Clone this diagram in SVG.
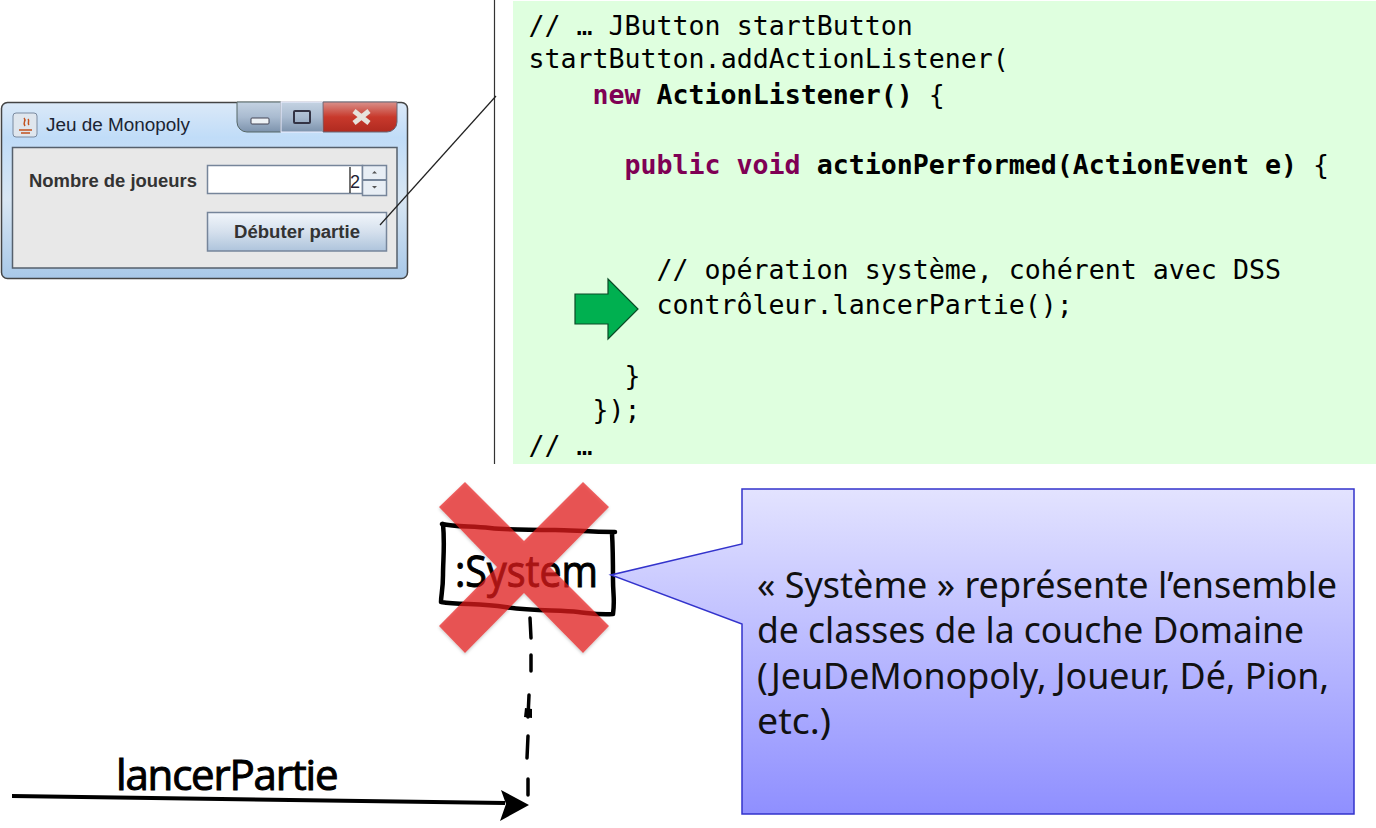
<svg xmlns="http://www.w3.org/2000/svg" width="1376" height="828" viewBox="0 0 1376 828">
<style>
.code{font-family:"DejaVu Sans Mono","Liberation Mono",monospace;font-size:26.6px;fill:#000}
.b{font-weight:700}
.k{font-weight:700;fill:#7f0055}
.ui{font-family:"Liberation Sans",Arial,sans-serif;font-size:18px}
.note{font-family:"Noto Sans","Open Sans",sans-serif;font-size:36px;fill:#111}
.hand{font-family:"Open Sans","Noto Sans",sans-serif;fill:#000;stroke:#000;stroke-width:1}
.sk{fill:none;stroke:#000;stroke-linecap:round;stroke-linejoin:round}
</style>
<defs>
<linearGradient id="win" x1="0" y1="0" x2="0" y2="1"><stop offset="0" stop-color="#dbe9f8"/><stop offset=".2" stop-color="#c0dcf8"/><stop offset=".55" stop-color="#d8e6f3"/><stop offset="1" stop-color="#a8c8e8"/></linearGradient>
<linearGradient id="btn" x1="0" y1="0" x2="0" y2="1"><stop offset="0" stop-color="#f2f6fb"/><stop offset=".5" stop-color="#d5e0ed"/><stop offset="1" stop-color="#aec4dc"/></linearGradient>
<linearGradient id="tb" x1="0" y1="0" x2="0" y2="1"><stop offset="0" stop-color="#c4d2e2"/><stop offset=".5" stop-color="#a9bbd0"/><stop offset="1" stop-color="#7d93ad"/></linearGradient>
<linearGradient id="cl" x1="0" y1="0" x2="0" y2="1"><stop offset="0" stop-color="#d9908a"/><stop offset=".5" stop-color="#c8392c"/><stop offset="1" stop-color="#b02a20"/></linearGradient>
<linearGradient id="call" x1="0" y1="0" x2="0" y2="1"><stop offset="0" stop-color="#e3e3ff"/><stop offset="1" stop-color="#8f8fff"/></linearGradient>
<filter id="sh" x="-10%" y="-10%" width="120%" height="120%"><feDropShadow dx="0" dy="1.5" stdDeviation="1.5" flood-color="#000" flood-opacity=".3"/></filter>
</defs>
<rect width="1376" height="828" fill="#fff"/>

<g id="code-panel">
<rect x="513" y="1" width="863" height="463" fill="#dfffdf"/>
<text class="code" x="528.500" y="35">// … JButton startButton</text>
<text class="code" x="528.500" y="68">startButton.addActionListener(</text>
<text class="code" x="592.500" y="104"><tspan class="k">new</tspan> <tspan class="b">ActionListener()</tspan> {</text>
<text class="code" x="624.500" y="174"><tspan class="k">public void</tspan> <tspan class="b">actionPerformed(ActionEvent e)</tspan> {</text>
<text class="code" x="656.500" y="279">// opération système, cohérent avec DSS</text>
<text class="code" x="656.500" y="314">contrôleur.lancerPartie();</text>
<text class="code" x="624.500" y="385">}</text>
<text class="code" x="592.500" y="419">});</text>
<text class="code" x="528.500" y="455">// …</text>
</g>

<g id="green-arrow">
<polygon points="575,294 608,294 608,279 638,309 608,339 608,324 575,324" fill="#00b050" stroke="#0b4a26" stroke-width="1.200"/>
</g>

<g id="window">
<rect x="1.500" y="102.500" width="406" height="176" rx="6" fill="url(#win)" stroke="#444" stroke-width="1.500"/>
<rect x="13" y="113" width="24" height="24" rx="3" fill="#dfe6ee" stroke="#7a8aa0"/>
<path d="M19 130h13M21 133h9M24 118c3 3-2 4 1 8M28 119c2 2-1 4 1 6" fill="none" stroke="#c2521f" stroke-width="1.500"/>
<text class="ui" x="46" y="131" fill="#1b2433" textLength="144" lengthAdjust="spacingAndGlyphs">Jeu de Monopoly</text>
<path d="M237 102h44v30h-34a10 10 0 0 1-10-10z" fill="url(#tb)" stroke="#566"/>
<rect x="281" y="102" width="42" height="30" fill="url(#tb)" stroke="#eef"/>
<path d="M323 102h74v20a10 10 0 0 1-10 10h-64z" fill="url(#cl)" stroke="#667"/>
<rect x="251" y="118" width="18" height="6" rx="1" fill="#eef2f6" stroke="#445"/>
<rect x="294" y="111" width="16" height="12" rx="1" fill="none" stroke="#334" stroke-width="2"/>
<path d="M354 111l15 12M369 111l-15 12" stroke="#e6e2dc" stroke-width="5"/>
<rect x="12.500" y="147.500" width="384.500" height="120.500" fill="#e8e8e8" stroke="#56606c" stroke-width="1.500"/>
<text class="ui" x="29" y="187" font-weight="700" fill="#333" textLength="168" lengthAdjust="spacingAndGlyphs">Nombre de joueurs</text>
<rect x="207.500" y="165.500" width="155" height="28" fill="#fff" stroke="#76859a" stroke-width="1.500"/>
<path d="M350 167v26" stroke="#111" stroke-width="1.200"/>
<text class="ui" x="350" y="188" fill="#223">2</text>
<rect x="362.500" y="165.500" width="24" height="30" fill="#e8eef5" stroke="#76859a" stroke-width="1.500"/>
<path d="M362 180h24" stroke="#76859a" stroke-width="2"/>
<path d="M372 173.500h5l-2.500-2.500zM372 186h5l-2.500 2.500z" fill="#555"/>
<rect x="207.500" y="212.500" width="179" height="38.500" fill="url(#btn)" stroke="#76859a" stroke-width="1.500"/>
<text class="ui" x="234" y="238" font-weight="700" fill="#333" textLength="126" lengthAdjust="spacingAndGlyphs">Débuter partie</text>
</g>

<g id="system-lifeline">
<path class="sk" stroke-width="4.500" d="M442 524C455 527 470 526 490 528S540 530 555 530 590 532 615 532M443 524C445 545 443 560 443 575S441 595 441 602M441 602C460 605 480 603 505 607S560 610 578 612 600 615 613 614M612 533C613 550 613 565 613 580S615 600 613 614"/>
<text class="hand" x="455" y="587" font-size="44" textLength="143" lengthAdjust="spacingAndGlyphs">:System</text>
<path class="sk" stroke-width="3.500" d="M530 618l1 20M531 655l0 16M529 695l-1 22M528 736l-1 22M528 779v16"/>
<path d="M525 708l7 1 0 9-8-1z" fill="#000"/>
</g>

<g id="red-cross">
<polygon points="465,482 524,541 583,482 609,507 550,567 609,626 583,653 524,593 465,653 439,626 497,567 439,507" fill="#e81e1e" fill-opacity=".69" filter="url(#sh)"/>
</g>

<g id="message-label">
<text class="hand" x="116" y="790" font-size="42" letter-spacing="1.500" textLength="224" lengthAdjust="spacing">lancerPartie</text>
</g>

<g id="callout">
<polygon points="742,489 1354,489 1354,814 742,814 742,624 611,575 742,544" fill="url(#call)" stroke="#3333cc" stroke-width="1.500"/>
<text class="note" x="757" y="598" textLength="580" lengthAdjust="spacingAndGlyphs">« Système » représente l’ensemble</text>
<text class="note" x="757" y="643" textLength="547" lengthAdjust="spacingAndGlyphs">de classes de la couche Domaine</text>
<text class="note" x="757" y="689" textLength="572" lengthAdjust="spacingAndGlyphs">(JeuDeMonopoly, Joueur, Dé, Pion,</text>
<text class="note" x="757" y="734" textLength="74" lengthAdjust="spacingAndGlyphs">etc.)</text>
</g>

<g id="connectors">
<path d="M494.500 0V464" stroke="#333" stroke-width="1.200" fill="none"/>
<path d="M496 96L380 225" stroke="#222" stroke-width="1.200" fill="none"/>
<path d="M12 796C150 798 300 801 505 803" stroke="#000" stroke-width="4" fill="none"/>
<polygon points="501,790 529,805 500,821 506,804" fill="#000"/>
</g>
</svg>
